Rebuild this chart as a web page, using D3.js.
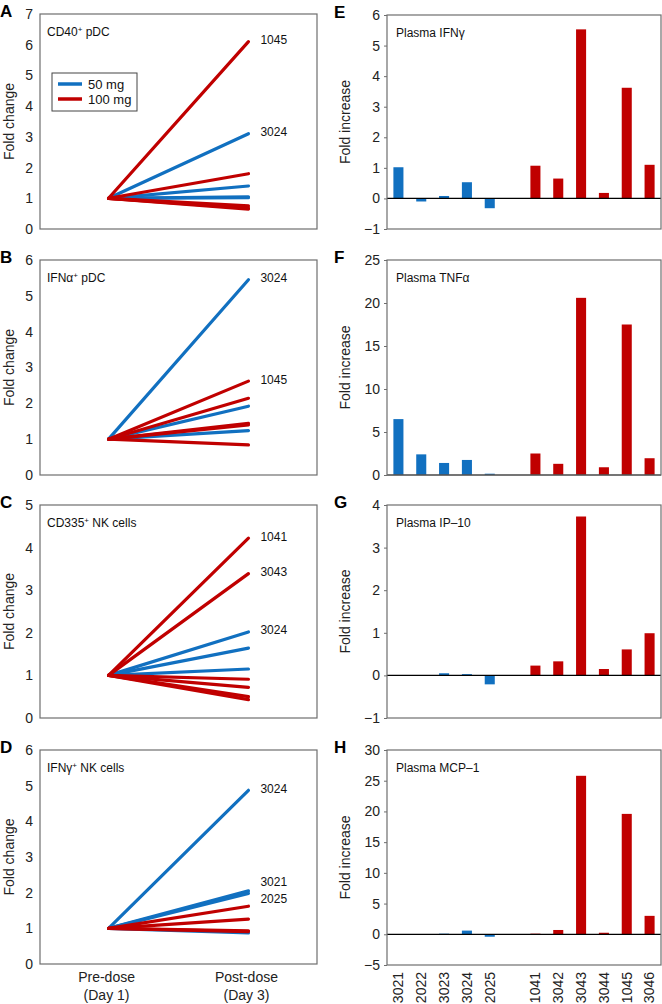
<!DOCTYPE html>
<html><head><meta charset="utf-8">
<script src="https://cdn.jsdelivr.net/npm/d3@7"></script>
<style>body{margin:0;background:#fff}svg{display:block;font-family:"Liberation Sans",Arial,sans-serif}</style>
</head><body>
<svg id="chart" width="662" height="1004"></svg>
<script>
// ---------- data ----------
const timepoints = ["Pre-dose", "Post-dose"];
const timepointSub = ["(Day 1)", "(Day 3)"];
const preValue = 1;

// Left panels: post-dose fold change per subject
const cd40_50mg  = [3.1, 1.4, 1.05, 1.02];
const cd40_100mg = [6.1, 1.8, 0.75, 0.68, 0.65];
const ifna_50mg  = [5.45, 1.92, 1.24];
const ifna_100mg = [2.62, 2.14, 1.44, 1.40, 0.84];
const cd335_50mg  = [2.02, 1.64, 1.15];
const cd335_100mg = [4.22, 3.39, 0.91, 0.72, 0.5, 0.43];
const ifng_50mg  = [4.87, 2.05, 1.98, 0.87];
const ifng_100mg = [1.62, 1.26, 0.93, 0.91];

const cd40Labels  = [["1045", 6.1], ["3024", 3.1]];
const ifnaLabels  = [["3024", 5.45], ["1045", 2.62]];
const cd335Labels = [["1041", 4.22], ["3043", 3.39], ["3024", 2.02]];
const ifngLabels  = [["3024", 4.87], ["3021", 2.05], ["2025", 1.98]];

const leftYTicks = [[0,1,2,3,4,5,6,7],[0,1,2,3,4,5,6],[0,1,2,3,4,5],[0,1,2,3,4,5,6]];

// Right panels: plasma fold increase per subject
const ids50mg  = ["3021", "2022", "3023", "3024", "2025"];
const ids100mg = ["1041", "3042", "3043", "3044", "1045", "3046"];
const plasmaIFNg = [1.02, -0.1, 0.08, 0.53, -0.32, 1.07, 0.65, 5.53, 0.18, 3.62, 1.1];
const plasmaTNFa = [6.5, 2.4, 1.4, 1.75, 0.15, 2.5, 1.3, 20.6, 0.9, 17.5, 1.95];
const plasmaIP10 = [0, 0, 0.05, 0.03, -0.21, 0.23, 0.33, 3.73, 0.15, 0.61, 0.99];
const plasmaMCP1 = [0, 0, 0.1, 0.6, -0.4, 0.1, 0.7, 25.8, 0.25, 19.6, 3.0];

const rightYTicks = [[-1,0,1,2,3,4,5,6],[0,5,10,15,20,25],[-1,0,1,2,3,4],[-5,0,5,10,15,20,25,30]];

const legendLabels = ["50 mg", "100 mg"];
const BLUE = "#1170c0", RED = "#c00000";

// ---------- layout ----------
const svg = d3.select("#chart");
const leftX0 = 40, leftX1 = 317;
const rightX0 = 387, rightX1 = 661;
const rows = [[14, 229], [260, 475], [505, 718], [750, 964]];
const rowsR = [[15, 229], [260, 475], [505, 718], [750, 965]];
const fmt = d => (d < 0 ? "\u2212" + Math.abs(d) : String(d));

function panelTitle(g, x, y, parts) {
  const t = g.append("text").attr("x", x).attr("y", y).attr("font-size", 12).attr("fill", "#111");
  parts.forEach(p => {
    if (p[1]) t.append("tspan").attr("font-size", 8).attr("dy", -4).text(p[0]);
    else t.append("tspan").attr("dy", p[2] || 0).text(p[0]);
  });
}

// ---------- left line panels ----------
const linePanels = [
  {letter: "A", d50: cd40_50mg, d100: cd40_100mg, labels: cd40Labels,
   title: [["CD40"], ["+", true], [" pDC", false, 4]]},
  {letter: "B", d50: ifna_50mg, d100: ifna_100mg, labels: ifnaLabels,
   title: [["IFN\u03b1"], ["+", true], [" pDC", false, 4]]},
  {letter: "C", d50: cd335_50mg, d100: cd335_100mg, labels: cd335Labels,
   title: [["CD335"], ["+", true], [" NK cells", false, 4]]},
  {letter: "D", d50: ifng_50mg, d100: ifng_100mg, labels: ifngLabels,
   title: [["IFN\u03b3"], ["+", true], [" NK cells", false, 4]]}
];

const xPt = d3.scalePoint().domain(timepoints).range([leftX0, leftX1]).padding(0.49);

linePanels.forEach((p, i) => {
  const [top, bot] = rows[i];
  const ticks = leftYTicks[i];
  const y = d3.scaleLinear().domain([0, d3.max(ticks)]).range([bot, top]);
  const g = svg.append("g");
  g.append("rect").attr("x", leftX0).attr("y", top).attr("width", leftX1 - leftX0).attr("height", bot - top)
    .attr("fill", "none").attr("stroke", "#6e6e6e").attr("stroke-width", 1.2);
  const ax = g.append("g").attr("transform", `translate(${leftX0},0)`)
    .call(d3.axisLeft(y).tickValues(ticks).tickSize(0).tickPadding(7).tickFormat(fmt));
  ax.select(".domain").remove();
  ax.selectAll("text").attr("font-size", 14).attr("fill", "#222").attr("font-family", "Liberation Sans, Arial, sans-serif");
  g.append("text").attr("transform", `translate(14,${(top + bot) / 2}) rotate(-90)`)
    .attr("text-anchor", "middle").attr("font-size", 14).attr("fill", "#222").text("Fold change");
  g.append("text").attr("x", 0).attr("y", top + 3).attr("font-size", 17).attr("font-weight", "bold").text(p.letter);
  panelTitle(g, leftX0 + 7, top + 22, p.title);

  const line = d3.line().x(d => xPt(d[0])).y(d => y(d[1]));
  const series = p.d50.map(v => ({c: BLUE, v})).concat(p.d100.map(v => ({c: RED, v})));
  g.selectAll("path.s").data(series).join("path").attr("class", "s")
    .attr("d", s => line([[timepoints[0], preValue], [timepoints[1], s.v]]))
    .attr("fill", "none").attr("stroke", s => s.c).attr("stroke-width", 3.2).attr("stroke-linecap", "round");

  // end labels with simple overlap resolution
  const lbl = p.labels.map(l => ({t: l[0], y: y(l[1])})).sort((a, b) => a.y - b.y);
  for (let k = 1; k < lbl.length; k++) {
    const gap = lbl[k].y - lbl[k - 1].y;
    if (gap < 17) { const s = (17 - gap) / 2; lbl[k - 1].y -= s; lbl[k].y += s; }
  }
  g.selectAll("text.lab").data(lbl).join("text").attr("class", "lab")
    .attr("x", xPt(timepoints[1]) + 12).attr("y", d => d.y).attr("dy", "0.2em")
    .attr("font-size", 12).attr("fill", "#111").text(d => d.t);

  if (i === 0) {
    const lg = g.append("g");
    lg.append("rect").attr("x", 52).attr("y", 73).attr("width", 85).attr("height", 38)
      .attr("fill", "#fff").attr("stroke", "#444").attr("stroke-width", 1);
    [BLUE, RED].forEach((c, k) => {
      lg.append("line").attr("x1", 58).attr("x2", 82).attr("y1", 84 + k * 15).attr("y2", 84 + k * 15)
        .attr("stroke", c).attr("stroke-width", 3.5);
      lg.append("text").attr("x", 88).attr("y", 84 + k * 15).attr("dy", "0.35em")
        .attr("font-size", 13).attr("fill", "#111").text(legendLabels[k]);
    });
  }
  if (i === 3) {
    timepoints.forEach((t, k) => {
      const tx = g.append("text").attr("x", xPt(t) - 2).attr("y", 982).attr("text-anchor", "middle")
        .attr("font-size", 14).attr("fill", "#222");
      tx.append("tspan").attr("x", xPt(t) - 2).text(t);
      tx.append("tspan").attr("x", xPt(t) - 2).attr("dy", 18).text(timepointSub[k]);
    });
  }
});

// ---------- right bar panels ----------
const barPanels = [
  {letter: "E", vals: plasmaIFNg, title: "Plasma IFN\u03b3"},
  {letter: "F", vals: plasmaTNFa, title: "Plasma TNF\u03b1"},
  {letter: "G", vals: plasmaIP10, title: "Plasma IP\u201310"},
  {letter: "H", vals: plasmaMCP1, title: "Plasma MCP\u20131"}
];
const allIds = ids50mg.concat(ids100mg);
const bandDomain = ids50mg.concat(["gap"], ids100mg);
const xB = d3.scaleBand().domain(bandDomain).range([rightX0, rightX1]).paddingInner(0.56).paddingOuter(0.28);

barPanels.forEach((p, i) => {
  const [top, bot] = rowsR[i];
  const ticks = rightYTicks[i];
  const y = d3.scaleLinear().domain(d3.extent(ticks)).range([bot, top]);
  const g = svg.append("g");
  const data = allIds.map((id, k) => ({id, v: p.vals[k], c: k < ids50mg.length ? BLUE : RED}));
  g.selectAll("rect.bar").data(data).join("rect").attr("class", "bar")
    .attr("x", d => xB(d.id)).attr("width", xB.bandwidth())
    .attr("y", d => y(Math.max(0, d.v))).attr("height", d => Math.abs(y(d.v) - y(0)))
    .attr("fill", d => d.c);
  g.append("line").attr("x1", rightX0).attr("x2", rightX1).attr("y1", y(0)).attr("y2", y(0))
    .attr("stroke", "#000").attr("stroke-width", 1.2);
  g.append("rect").attr("x", rightX0).attr("y", top).attr("width", rightX1 - rightX0).attr("height", bot - top)
    .attr("fill", "none").attr("stroke", "#6e6e6e").attr("stroke-width", 1.2);
  const ax = g.append("g").attr("transform", `translate(${rightX0},0)`)
    .call(d3.axisLeft(y).tickValues(ticks).tickSize(3).tickPadding(4).tickFormat(fmt));
  ax.select(".domain").remove();
  ax.selectAll("line").attr("stroke", "#6e6e6e");
  ax.selectAll("text").attr("font-size", 14).attr("fill", "#222").attr("font-family", "Liberation Sans, Arial, sans-serif");
  g.append("text").attr("transform", `translate(350,${(top + bot) / 2}) rotate(-90)`)
    .attr("text-anchor", "middle").attr("font-size", 14).attr("fill", "#222").text("Fold increase");
  g.append("text").attr("x", 334).attr("y", top + 3).attr("font-size", 17).attr("font-weight", "bold").text(p.letter);
  g.append("text").attr("x", rightX0 + 9).attr("y", top + 22).attr("font-size", 12).attr("fill", "#111").text(p.title);

  if (i === 3) {
    g.selectAll("text.xl").data(allIds).join("text").attr("class", "xl")
      .attr("transform", d => `translate(${xB(d) + xB.bandwidth() / 2},972) rotate(-90)`)
      .attr("text-anchor", "end").attr("dy", "0.35em").attr("font-size", 14).attr("fill", "#222").text(d => d);
  }
});
</script>
</body></html>
